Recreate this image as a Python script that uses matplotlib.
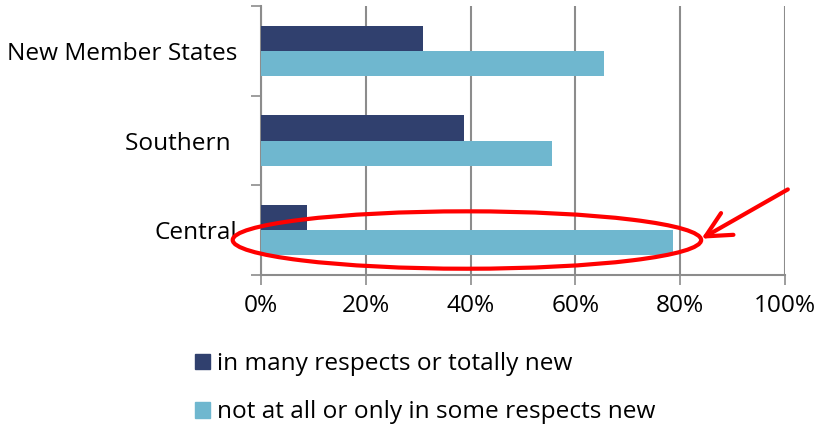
import matplotlib
matplotlib.use('Agg')
from matplotlib import pyplot as plt
from matplotlib.patches import Ellipse, Patch
import numpy as np

categorias = ['Central', 'Southern ', 'New Member States']
muy_nuevo = [8.7, 38.8, 30.9]
poco_nuevo = [78.6, 55.5, 65.4]
etiquetas_x = ['0%', '20%', '40%', '60%', '80%', '100%']
leyenda = ['in many respects or totally new', 'not at all or only in some respects new']

color_oscuro = '#30406e'
color_claro = '#6fb7cf'
color_gris = '#8c8c8c'
tam = 17.6

plt.rcParams['font.family'] = ['Open Sans', 'DejaVu Sans']

fig = plt.figure(figsize=(8.21, 4.25), dpi=100)
ax = fig.add_axes([261 / 821, 1 - 275 / 425, 524 / 821, 269 / 425])

y = np.arange(len(categorias))
alto = 0.28
ax.barh(y + alto / 2, muy_nuevo, height=alto, color=color_oscuro, zorder=3)
ax.barh(y - alto / 2, poco_nuevo, height=alto, color=color_claro, zorder=3)

ax.set_xlim(0, 100)
ax.set_ylim(-0.5, 2.5)
ax.set_xticks(np.arange(0, 101, 20))
ax.set_xticklabels(etiquetas_x, fontsize=tam)
ax.set_yticks(y)
ax.set_yticklabels(categorias, fontsize=tam)
ax.set_yticks(np.arange(-0.5, 2.6, 1), minor=True)
ax.tick_params(axis='y', which='major', length=0, pad=17)
ax.tick_params(axis='y', which='minor', length=7, width=1.2, color=color_gris, direction='out')
ax.tick_params(axis='x', length=7, width=1.2, color=color_gris, direction='out', pad=7)

ax.grid(axis='x', color=color_gris, linewidth=1.5, zorder=0)
for lado in ['top', 'right']:
    ax.spines[lado].set_visible(False)
for lado in ['left', 'bottom']:
    ax.spines[lado].set_color(color_gris)
    ax.spines[lado].set_linewidth(1.5)

# marca roja
ax.add_patch(Ellipse((39.3, -0.11), 89.4, 0.64, fill=False, edgecolor='red',
                     linewidth=3, clip_on=False, zorder=5))
ax.annotate('', xy=(83.6, -0.11), xytext=(101.0, 0.47),
            arrowprops=dict(arrowstyle='->,head_length=0.9,head_width=0.45', color='red',
                            linewidth=3, mutation_scale=20),
            annotation_clip=False)

manijas = [Patch(color=color_oscuro), Patch(color=color_claro)]
fig.legend(manijas, leyenda, loc='upper left', bbox_to_anchor=(195 / 821, 1 - 352 / 425),
           frameon=False, fontsize=tam, handlelength=0.6, handleheight=0.6,
           handletextpad=0.3, labelspacing=1.0, borderpad=0, borderaxespad=0)

fig.savefig('out.png', dpi=100)
